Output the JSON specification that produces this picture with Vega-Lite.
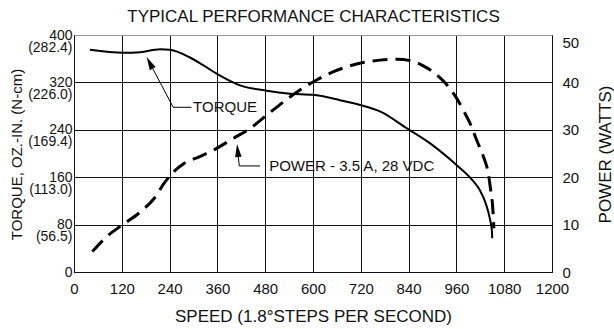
{
  "$schema": "https://vega.github.io/schema/vega-lite/v6.json",
  "width": 478,
  "height": 237,
  "autosize": "none",
  "padding": {"left": 74, "top": 35, "right": 62, "bottom": 57},
  "background": "white",
  "config": {
    "font": "Liberation Sans",
    "view": {"stroke": "#999", "strokeWidth": 1},
    "axis": {"labelColor": "#111", "titleColor": "#111", "titleFontWeight": "normal", "domainColor": "#111", "domainWidth": 1, "ticks": false, "tickSize": 0, "labelFontSize": 15, "titleFontSize": 17}
  },
  "datasets": {
    "torque": [
      {"speed": 40, "torque": 375}, {"speed": 124, "torque": 370}, {"speed": 166, "torque": 371},
      {"speed": 216, "torque": 376}, {"speed": 241, "torque": 375}, {"speed": 291, "torque": 362},
      {"speed": 324, "torque": 349}, {"speed": 360, "torque": 334}, {"speed": 417, "torque": 315},
      {"speed": 484, "torque": 306}, {"speed": 542, "torque": 301}, {"speed": 600, "torque": 299},
      {"speed": 668, "torque": 290}, {"speed": 718, "torque": 282}, {"speed": 768, "torque": 271},
      {"speed": 839, "torque": 241}, {"speed": 894, "torque": 217}, {"speed": 961, "torque": 180},
      {"speed": 1000, "torque": 155}, {"speed": 1019, "torque": 138}, {"speed": 1034, "torque": 115},
      {"speed": 1044, "torque": 90}, {"speed": 1049, "torque": 70}, {"speed": 1050, "torque": 57}
    ],
    "power": [
      {"speed": 46, "watts": 4.3}, {"speed": 84, "watts": 7.6}, {"speed": 121, "watts": 9.9},
      {"speed": 167, "watts": 12.7}, {"speed": 201, "watts": 15.5}, {"speed": 226, "watts": 18.7},
      {"speed": 243, "watts": 20.5}, {"speed": 276, "watts": 22.9}, {"speed": 314, "watts": 24.3},
      {"speed": 350, "watts": 25.7}, {"speed": 400, "watts": 28.2}, {"speed": 442, "watts": 30.3},
      {"speed": 484, "watts": 33.1}, {"speed": 526, "watts": 35.9}, {"speed": 567, "watts": 38.4},
      {"speed": 609, "watts": 40.5}, {"speed": 650, "watts": 42.2}, {"speed": 685, "watts": 43.3},
      {"speed": 726, "watts": 44.2}, {"speed": 768, "watts": 44.7}, {"speed": 810, "watts": 44.9},
      {"speed": 844, "watts": 44.6}, {"speed": 877, "watts": 43.5}, {"speed": 911, "watts": 41.6},
      {"speed": 936, "watts": 39.5}, {"speed": 958, "watts": 37.0}, {"speed": 977, "watts": 34.2},
      {"speed": 994, "watts": 31.4}, {"speed": 1011, "watts": 27.8}, {"speed": 1028, "watts": 24.3},
      {"speed": 1040, "watts": 20.8}, {"speed": 1046, "watts": 17.3}, {"speed": 1051, "watts": 13.8},
      {"speed": 1053, "watts": 11.0}, {"speed": 1054, "watts": 9.2}
    ],
    "leaders": [
      {"id": "TORQUE", "o": 1, "speed": 191, "torque": 352},
      {"id": "TORQUE", "o": 2, "speed": 249, "torque": 278},
      {"id": "TORQUE", "o": 3, "speed": 295, "torque": 278},
      {"id": "POWER", "o": 1, "speed": 411, "torque": 204},
      {"id": "POWER", "o": 2, "speed": 415, "torque": 179},
      {"id": "POWER", "o": 3, "speed": 467, "torque": 179}
    ],
    "arrows": [
      {"id": "TORQUE", "speed": 190, "torque": 353},
      {"id": "POWER", "speed": 411, "torque": 205}
    ],
    "notes": [
      {"label": "TORQUE", "speed": 299, "torque": 278.5},
      {"label": "POWER - 3.5 A, 28 VDC", "speed": 490, "torque": 179}
    ]
  },
  "layer": [
    {
      "encoding": {
        "x": {"field": "speed", "type": "quantitative", "scale": {"domain": [0, 1200]},
          "axis": {"orient": "bottom", "values": [0, 120, 240, 360, 480, 600, 720, 840, 960, 1080, 1200], "format": "d", "labelFlush": false, "labelPadding": 21, "labelBaseline": "alphabetic", "grid": true, "gridColor": "#111", "gridWidth": 1, "gridOpacity": 1, "title": "SPEED (1.8°STEPS PER SECOND)", "titleY": 49, "titleBaseline": "alphabetic"}},
        "y": {"field": "torque", "type": "quantitative", "scale": {"domain": [0, 400]},
          "axis": {"values": [0, 80, 160, 240, 320, 400], "labelPadding": 2, "labelFontSize": 14, "labelBaseline": "middle", "labelLineHeight": 12,
            "labelExpr": "datum.value == 0 ? '0' : datum.value == 80 ? ['80','(56.5)'] : datum.value == 160 ? ['160','(113.0)'] : datum.value == 240 ? ['240','(169.4)'] : datum.value == 320 ? ['320','(226.0)'] : ['400','(282.4)']",
            "grid": true, "gridColor": {"condition": {"test": "datum.value == 400", "value": "#999"}, "value": "#111"}, "gridWidth": 1, "gridOpacity": 1,
            "title": "TORQUE, OZ.-IN. (N-cm)", "titleFontSize": 15, "titleAngle": 270, "titleX": -58, "titleY": 119, "titleBaseline": "middle", "titleAlign": "center"}}
      },
      "layer": [
        {"data": {"name": "torque"}, "mark": {"type": "line", "color": "black", "strokeWidth": 2, "interpolate": "monotone"}},
        {"data": {"name": "leaders"}, "mark": {"type": "line", "color": "black", "strokeWidth": 1}, "encoding": {"detail": {"field": "id"}, "order": {"field": "o"}}},
        {"data": {"name": "arrows"}, "transform": [{"filter": "datum.id == 'TORQUE'"}], "mark": {"type": "point", "shape": "M0,-1L0.5,1L-0.5,1Z", "filled": true, "color": "black", "size": 170, "opacity": 1, "angle": 332}},
        {"data": {"name": "arrows"}, "transform": [{"filter": "datum.id == 'POWER'"}], "mark": {"type": "point", "shape": "M0,-1L0.5,1L-0.5,1Z", "filled": true, "color": "black", "size": 170, "opacity": 1, "angle": 354}},
        {"data": {"name": "notes"}, "mark": {"type": "text", "align": "left", "baseline": "middle", "fontSize": 15, "color": "#111"}, "encoding": {"text": {"field": "label"}}}
      ]
    },
    {
      "data": {"name": "power"},
      "mark": {"type": "line", "color": "black", "strokeWidth": 3, "strokeDash": [15, 8], "interpolate": "monotone"},
      "encoding": {
        "x": {"field": "speed", "type": "quantitative",
          "axis": {"orient": "top", "labels": false, "domain": false, "grid": false, "ticks": false, "title": "TYPICAL PERFORMANCE CHARACTERISTICS", "titleFontSize": 17, "titleY": -14, "titleBaseline": "alphabetic"}},
        "y": {"field": "watts", "type": "quantitative", "scale": {"domain": [0, 50]},
          "axis": {"orient": "right", "values": [0, 10, 20, 30, 40, 50], "grid": false, "labelPadding": 10, "labelAlign": "left",
            "labelBaseline": {"condition": {"test": "datum.value == 50", "value": "top"}, "value": "middle"},
            "title": "POWER (WATTS)", "titleAngle": 270, "titleX": 53, "titleY": 119, "titleBaseline": "middle", "titleAlign": "center"}}
      }
    }
  ],
  "resolve": {"scale": {"y": "independent"}, "axis": {"x": "independent"}}
}
